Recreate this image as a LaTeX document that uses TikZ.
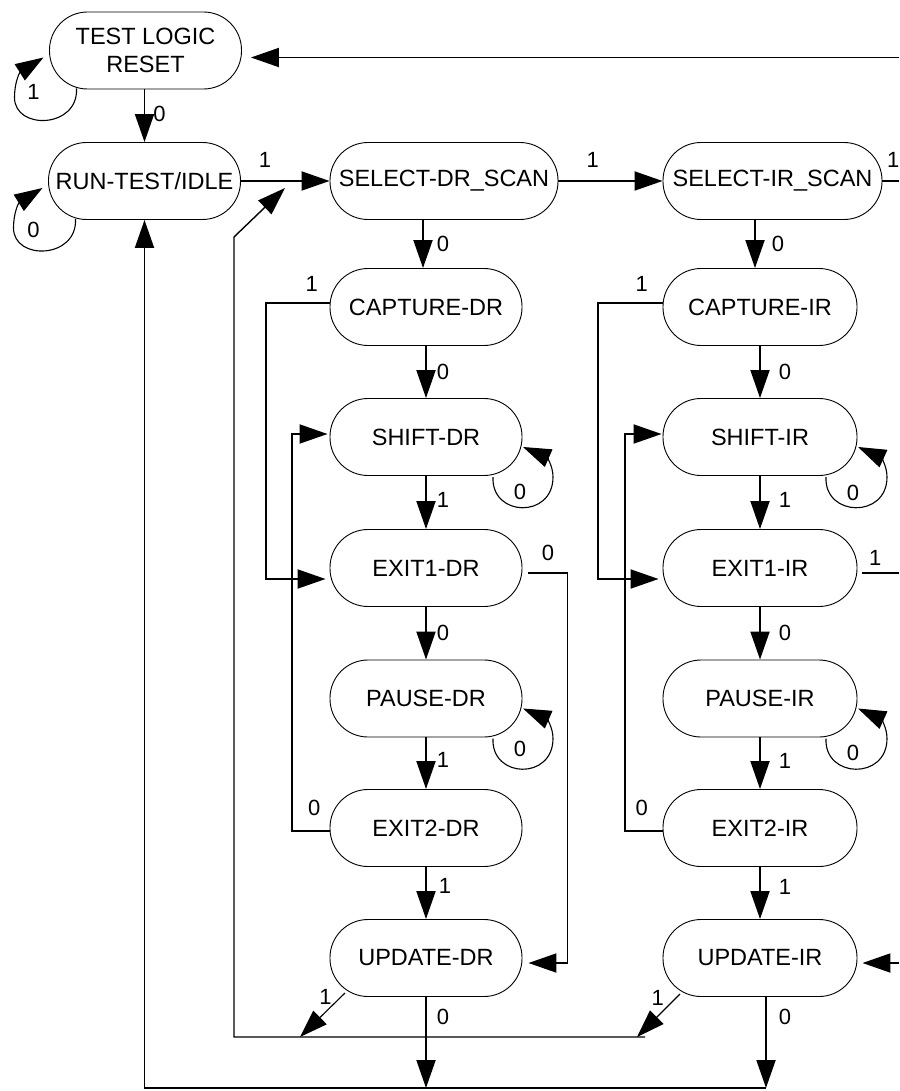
\documentclass[tikz,border=0pt]{standalone}
\usepackage{fontspec}
\setmainfont{Liberation Sans}
\usetikzlibrary{arrows.meta,calc}
\begin{document}
\begin{tikzpicture}[x=1pt,y=-1pt,
  state/.style={draw, line width=0.9pt, rounded corners=38pt, minimum height=77pt,
    minimum width=192pt, inner sep=2pt, font=\fontsize{23.5}{28}\selectfont, align=center},
  irstate/.style={state, minimum width=194pt},
  lbl/.style={font=\fontsize{22}{26}\selectfont, inner sep=0pt},
  tip/.style={-{Triangle[length=28pt,width=19pt]}},
  conn/.style={line width=1.9pt, tip},
  wire/.style={line width=1.9pt},
  thinconn/.style={line width=1.1pt, tip},
  loopline/.style={line width=1.1pt, tip},
]
\useasboundingbox (0,0) rectangle (899,1091);

% states
\node[state] (tlr) at (145.5,50.5) {TEST LOGIC\\RESET};
\node[state] (rti) at (144.5,181) {RUN-TEST/IDLE};
\node[state, minimum width=228pt] (seldr) at (444,181) {SELECT-DR\_SCAN};
\node[state, minimum width=219pt] (selir) at (772.5,181) {SELECT-IR\_SCAN};
\node[state] (capdr) at (426,307) {CAPTURE-DR};
\node[irstate] (capir) at (760,307) {CAPTURE-IR};
\node[state] (shiftdr) at (426,437) {SHIFT-DR};
\node[irstate] (shiftir) at (760,437) {SHIFT-IR};
\node[state] (exit1dr) at (426,568) {EXIT1-DR};
\node[irstate] (exit1ir) at (760,568) {EXIT1-IR};
\node[state] (pausedr) at (426,698.5) {PAUSE-DR};
\node[irstate] (pauseir) at (760,698.5) {PAUSE-IR};
\node[state] (exit2dr) at (426,828) {EXIT2-DR};
\node[irstate] (exit2ir) at (760,828) {EXIT2-IR};
\node[state] (updr) at (426,958) {UPDATE-DR};
\node[irstate] (upir) at (760,958) {UPDATE-IR};

% free ends and corners
\coordinate (tlrin) at (899,57.5);
\coordinate (siout) at (899,181);
\coordinate (e1out) at (899,573);
\coordinate (upin) at (899,963);
\coordinate (bl) at (144.5,1088);
\coordinate (br) at (766,1088);
\coordinate (u1r) at (645,1037);
\coordinate (u1l) at (234,1037);
\coordinate (u1t) at (234,237);
\coordinate (join) at (285,188);
\coordinate (d1) at (300,1037);
\coordinate (d2) at (637,1037);

% top part
\draw[conn] (tlrin) -- ($(tlr.east)+(9,7)$);
\draw[conn] (rti.north |- tlr.south) -- node[lbl, midway, xshift=15pt, yshift=2pt] {0} (rti.north);
\draw[conn] (rti.east) -- node[lbl, pos=0.27, yshift=21pt] {1} (seldr.west);
\draw[conn] (seldr.east) -- node[lbl, pos=0.33, yshift=21pt] {1} (selir.west);
\draw[wire] (selir.east) -- node[lbl, pos=0.65, yshift=21pt] {1} (siout);

% DR column
\draw[conn] ($(capdr.north |- seldr.south)+(-3,0)$) -- node[lbl, midway, xshift=20pt] {0} ($(capdr.north)+(-3,0)$);
\draw[conn] (capdr.south) -- node[lbl, midway, xshift=17pt] {0} (shiftdr.north);
\draw[conn] (shiftdr.south) -- node[lbl, midway, xshift=17pt, yshift=3pt] {1} (exit1dr.north);
\draw[conn] (exit1dr.south) -- node[lbl, midway, xshift=17pt] {0} (pausedr.north);
\draw[conn] (pausedr.south) -- node[lbl, midway, xshift=17pt, yshift=3pt] {1} (exit2dr.north);
\draw[conn] (exit2dr.south) -- node[lbl, midway, xshift=19pt, yshift=7pt] {1} (updr.north);

% IR column
\draw[conn] ($(capir.north |- selir.south)+(-5,0)$) -- node[lbl, midway, xshift=23pt] {0} ($(capir.north)+(-5,0)$);
\draw[conn] (capir.south) -- node[lbl, midway, xshift=25pt] {0} (shiftir.north);
\draw[conn] (shiftir.south) -- node[lbl, midway, xshift=25pt, yshift=3pt] {1} (exit1ir.north);
\draw[conn] (exit1ir.south) -- node[lbl, midway, xshift=25pt] {0} (pauseir.north);
\draw[conn] (pauseir.south) -- node[lbl, midway, xshift=25pt, yshift=2pt] {1} (exit2ir.north);
\draw[conn] (exit2ir.south) -- node[lbl, midway, xshift=25pt, yshift=6pt] {1} (upir.north);

% side routes DR
\draw[conn] ($(capdr.west)+(0,-4)$) -- node[lbl, pos=0.28, yshift=19pt] {1} ++(-64,0) |- ($(exit1dr.west)+(-4,11)$);
\draw[conn] ($(exit2dr.west)+(0,3)$) -- node[lbl, pos=0.4, yshift=23pt] {0} ++(-38,0) |- ($(shiftdr.west)+(-2,-3)$);
\draw[conn] ($(exit1dr.east)+(6,5)$) -- node[lbl, midway, yshift=20pt] {0} ++(39,0) |- ($(updr.east)+(6,5)$);

% side routes IR
\draw[conn] ($(capir.west)+(0,-4)$) -- node[lbl, pos=0.32, yshift=19pt] {1} ++(-65,0) |- ($(exit1ir.west)+(-4,11)$);
\draw[conn] ($(exit2ir.west)+(0,3)$) -- node[lbl, pos=0.55, yshift=23pt] {0} ++(-38,0) |- ($(shiftir.west)+(-1,-3)$);
\draw[wire] ($(exit1ir.east)+(5,5)$) -- node[lbl, pos=0.35, yshift=15pt] {1} (e1out);
\draw[conn] (upin) -- ($(upir.east)+(5,5)$);

% bottom
\draw[conn] (updr.south) -- node[lbl, pos=0.22, xshift=17pt] {0} (updr.south |- bl);
\draw[conn] ($(upir.south)+(6,0)$) -- node[lbl, pos=0.22, xshift=19pt] {0} (br);
\draw[conn] (br) -- (bl) -- (rti.south);
\draw[line width=1.4pt, tip] (u1r) -- (u1l) -- (u1t) -- (join);
\draw[thinconn] ($(updr)+(-81,35)$) -- node[lbl, pos=0.1, xshift=-15pt] {1} (d1);
\draw[thinconn] ($(upir)+(-80,36)$) -- node[lbl, pos=0.1, xshift=-18pt] {1} (d2);

% self loops, left side
\draw[loopline] ($(tlr)+(-69,38)$) .. controls ($(tlr)+(-67,78)$) and ($(tlr)+(-131,80)$) .. ($(tlr)+(-131,47)$) .. controls ($(tlr)+(-131,32)$) and ($(tlr)+(-126,22)$) .. ($(tlr)+(-102,7)$);
\node[lbl] (ltlr) at ($(tlr)+(-112,41)$) {1};
\draw[loopline] ($(rti)+(-69,38)$) .. controls ($(rti)+(-67,78)$) and ($(rti)+(-131,80)$) .. ($(rti)+(-131,47)$) .. controls ($(rti)+(-131,32)$) and ($(rti)+(-126,22)$) .. ($(rti)+(-102,7)$);
\node[lbl] (lrti) at ($(rti)+(-111,49)$) {0};

% self loops, right side
\draw[loopline] ($(shiftdr)+(67,40)$) .. controls ($(shiftdr)+(65,80)$) and ($(shiftdr)+(127,82)$) .. ($(shiftdr)+(127,40)$) .. controls ($(shiftdr)+(127,28)$) and ($(shiftdr)+(120,20)$) .. ($(shiftdr)+(97,10)$);
\node[lbl] (lshiftdr) at ($(shiftdr)+(94,55)$) {0};
\draw[loopline] ($(shiftir)+(66,40)$) .. controls ($(shiftir)+(64,80)$) and ($(shiftir)+(127,82)$) .. ($(shiftir)+(127,40)$) .. controls ($(shiftir)+(127,28)$) and ($(shiftir)+(120,20)$) .. ($(shiftir)+(98,10)$);
\node[lbl] (lshiftir) at ($(shiftir)+(93,56)$) {0};
\draw[loopline] ($(pausedr)+(67,40)$) .. controls ($(pausedr)+(65,80)$) and ($(pausedr)+(127,82)$) .. ($(pausedr)+(127,40)$) .. controls ($(pausedr)+(127,28)$) and ($(pausedr)+(120,20)$) .. ($(pausedr)+(97,10)$);
\node[lbl] (lpausedr) at ($(pausedr)+(94,50)$) {0};
\draw[loopline] ($(pauseir)+(66,40)$) .. controls ($(pauseir)+(64,80)$) and ($(pauseir)+(127,82)$) .. ($(pauseir)+(127,40)$) .. controls ($(pauseir)+(127,28)$) and ($(pauseir)+(120,20)$) .. ($(pauseir)+(98,10)$);
\node[lbl] (lpauseir) at ($(pauseir)+(93,54)$) {0};
\end{tikzpicture}
\end{document}
